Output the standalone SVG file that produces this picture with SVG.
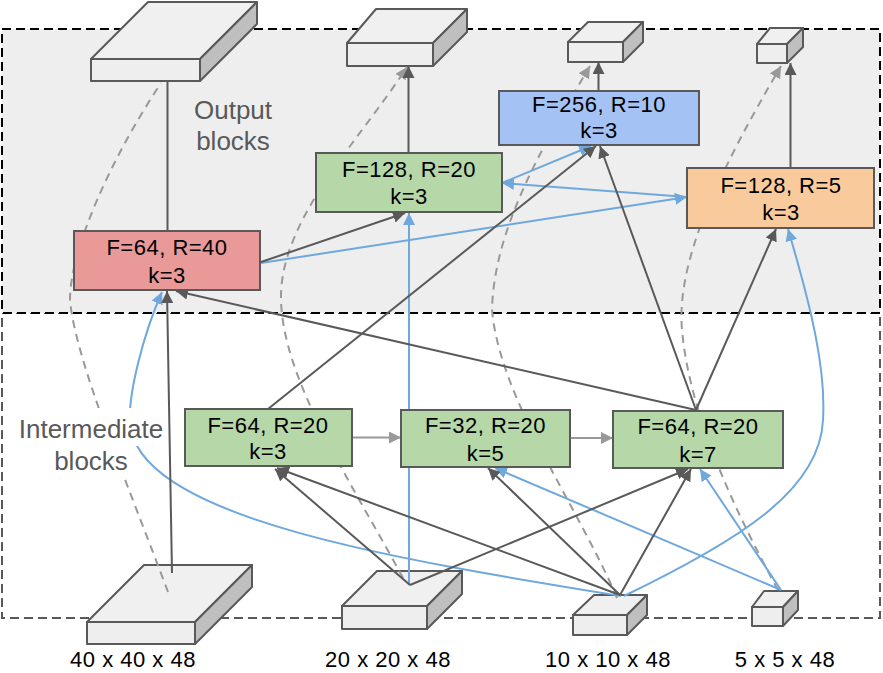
<svg xmlns="http://www.w3.org/2000/svg" width="883" height="673" viewBox="0 0 883 673">
<defs>
<style>
.box{stroke:#595959;stroke-width:2}
.cube rect,.cube path{stroke:#595959;stroke-width:2;stroke-linejoin:round}
.face{fill:#eeeeee}
.top{fill:#f0f0f0}
.side{fill:#bfbfbf}
.t{font-family:"Liberation Sans",Arial,sans-serif;font-size:22px;fill:#000;text-anchor:middle;letter-spacing:0.5px}
.lbl{font-family:"Liberation Sans",Arial,sans-serif;font-size:26px;fill:#595959;text-anchor:middle}
.dk{stroke:#595959;stroke-width:2;fill:none}
.bl{stroke:#6fa8dc;stroke-width:2;fill:none}
.gr{stroke:#999999;stroke-width:2;fill:none}
.ds{stroke:#999999;stroke-width:2;fill:none;stroke-dasharray:8 6}
</style>
<marker id="aDk" viewBox="0 0 12 12" refX="12" refY="6" markerWidth="12" markerHeight="12" markerUnits="userSpaceOnUse" orient="auto"><path d="M0,0 L12,6 L0,12 Z" fill="#595959"/></marker>
<marker id="aBl" viewBox="0 0 12 12" refX="12" refY="6" markerWidth="12" markerHeight="12" markerUnits="userSpaceOnUse" orient="auto"><path d="M0,0 L12,6 L0,12 Z" fill="#6fa8dc"/></marker>
<marker id="aGr" viewBox="0 0 12 12" refX="12" refY="6" markerWidth="12" markerHeight="12" markerUnits="userSpaceOnUse" orient="auto"><path d="M0,0 L12,6 L0,12 Z" fill="#999999"/></marker>
</defs>

<g id="regions">
<rect x="2" y="313" width="878" height="305" fill="#ffffff" stroke="#595959" stroke-width="2" stroke-dasharray="9 5"/>
<rect x="2" y="29" width="878" height="284" fill="#eeeeee" stroke="#000000" stroke-width="2" stroke-dasharray="9 5"/>
</g>

<g id="cube-out-1" class="cube">
<rect class="face" x="91" y="59" width="109" height="22"/>
<path class="top" d="M91,59 L148,2 L257,2 L200,59 Z"/>
<path class="side" d="M200,59 L257,2 L257,24 L200,81 Z"/>
</g>
<g id="cube-out-2" class="cube">
<rect class="face" x="347" y="43" width="86" height="23"/>
<path class="top" d="M347,43 L376,9 L467,9 L433,43 Z"/>
<path class="side" d="M433,43 L467,9 L467,32 L433,66 Z"/>
</g>
<g id="cube-out-3" class="cube">
<rect class="face" x="568" y="42" width="55" height="20"/>
<path class="top" d="M568,42 L588,22 L643,22 L623,42 Z"/>
<path class="side" d="M623,42 L643,22 L643,42 L623,62 Z"/>
</g>
<g id="cube-out-4" class="cube">
<rect class="face" x="757" y="44" width="30" height="19"/>
<path class="top" d="M757,44 L770,28 L803,28 L787,44 Z"/>
<path class="side" d="M787,44 L803,28 L803,47 L787,63 Z"/>
</g>

<g id="cube-in-40" class="cube">
<rect class="face" x="87" y="622" width="108" height="22"/>
<path class="top" d="M87,622 L144,565 L252,565 L195,622 Z"/>
<path class="side" d="M195,622 L252,565 L252,587 L195,644 Z"/>
</g>
<g id="cube-in-20" class="cube">
<rect class="face" x="342" y="606" width="85" height="23"/>
<path class="top" d="M342,606 L377,571 L462,571 L427,606 Z"/>
<path class="side" d="M427,606 L462,571 L462,594 L427,629 Z"/>
</g>
<g id="cube-in-10" class="cube">
<rect class="face" x="573" y="615" width="54" height="20"/>
<path class="top" d="M573,615 L594,595 L647,595 L627,615 Z"/>
<path class="side" d="M627,615 L647,595 L647,615 L627,635 Z"/>
</g>
<g id="cube-in-5" class="cube">
<rect class="face" x="752" y="607" width="31" height="19"/>
<path class="top" d="M752,607 L764,591 L798,591 L783,607 Z"/>
<path class="side" d="M783,607 L798,591 L798,610 L783,626 Z"/>
</g>

<g id="connectors">
<path class="ds" d="M168,592 C130,490 75,360 70,300 C70,250 110,160 161,83"/>
<path class="ds" d="M403,578 C350,480 283,380 281,300 C279,220 360,140 407,67" marker-end="url(#aGr)"/>
<path class="ds" d="M617,598 C580,510 500,400 492,310 C494,230 540,150 590,66" marker-end="url(#aGr)"/>
<path class="ds" d="M778,590 C740,520 690,420 682,330 C676,260 720,170 781,66" marker-end="url(#aGr)"/>

<line class="dk" x1="167.5" y1="231" x2="167.5" y2="81"/>
<line class="dk" x1="408.5" y1="153" x2="408.5" y2="66" marker-end="url(#aDk)"/>
<line class="dk" x1="598.5" y1="91" x2="598.5" y2="62" marker-end="url(#aDk)"/>
<line class="dk" x1="790.5" y1="168" x2="790.5" y2="63" marker-end="url(#aDk)"/>

<line class="bl" x1="409" y1="585" x2="409" y2="213" marker-end="url(#aBl)"/>
<line class="bl" x1="781" y1="590" x2="495" y2="468" marker-end="url(#aBl)"/>
<line class="bl" x1="781" y1="590" x2="700" y2="469" marker-end="url(#aBl)"/>
<path class="bl" d="M621,596 C400,560 150,520 131,430 C125,400 145,330 162,292" marker-end="url(#aBl)"/>
<path class="bl" d="M624,596 C740,540 820,490 823,420 C826,370 812,310 788,229" marker-end="url(#aBl)"/>
<line class="bl" x1="261" y1="263" x2="687" y2="197" marker-end="url(#aBl)"/>
<line class="bl" x1="687" y1="197" x2="502" y2="183" marker-end="url(#aBl)"/>
<line class="bl" x1="502" y1="183" x2="591" y2="146" marker-end="url(#aBl)"/>

<line class="dk" x1="172" y1="573" x2="167" y2="291" marker-end="url(#aDk)"/>
<line class="dk" x1="696" y1="410" x2="176" y2="291" marker-end="url(#aDk)"/>
<line class="dk" x1="268" y1="409" x2="596" y2="146" marker-end="url(#aDk)"/>
<line class="dk" x1="696" y1="410" x2="600" y2="146" marker-end="url(#aDk)"/>
<line class="dk" x1="696" y1="410" x2="776" y2="229" marker-end="url(#aDk)"/>
<line class="dk" x1="261" y1="262" x2="405" y2="213" marker-end="url(#aDk)"/>
<line class="dk" x1="620" y1="595" x2="691" y2="469" marker-end="url(#aDk)"/>
<line class="dk" x1="620" y1="595" x2="488" y2="468" marker-end="url(#aDk)"/>
<line class="dk" x1="620" y1="595" x2="277" y2="468" marker-end="url(#aDk)"/>
<line class="dk" x1="410" y1="585" x2="688" y2="469" marker-end="url(#aDk)"/>
<line class="dk" x1="410" y1="585" x2="275" y2="469" marker-end="url(#aDk)"/>

<line class="gr" x1="352" y1="437.5" x2="401" y2="437.5" marker-end="url(#aGr)"/>
<line class="gr" x1="570" y1="438" x2="613" y2="438" marker-end="url(#aGr)"/>
</g>

<g id="label-output">
<text class="lbl" x="233" y="119">Output</text>
<text class="lbl" x="233" y="150">blocks</text>
</g>
<g id="label-intermediate">
<rect x="15" y="408" width="151" height="38" fill="#ffffff"/>
<rect x="52" y="446" width="78" height="32" fill="#ffffff"/>
<text class="lbl" x="91" y="438">Intermediate</text>
<text class="lbl" x="91" y="470">blocks</text>
</g>

<g id="node-red">
<rect class="box" x="74" y="231" width="186" height="59" fill="#ea9999"/>
<text class="t" x="167" y="255">F=64, R=40</text>
<text class="t" x="167" y="283">k=3</text>
</g>
<g id="node-green128">
<rect class="box" x="316" y="153" width="186" height="59" fill="#b6d7a8"/>
<text class="t" x="409" y="177">F=128, R=20</text>
<text class="t" x="409" y="204">k=3</text>
</g>
<g id="node-blue">
<rect class="box" x="499" y="91" width="200" height="54" fill="#a4c2f4"/>
<text class="t" x="599" y="112">F=256, R=10</text>
<text class="t" x="599" y="138">k=3</text>
</g>
<g id="node-orange">
<rect class="box" x="687" y="168" width="187" height="60" fill="#f9cb9c"/>
<text class="t" x="781" y="193">F=128, R=5</text>
<text class="t" x="781" y="220">k=3</text>
</g>
<g id="node-k3">
<rect class="box" x="185" y="409" width="167" height="57" fill="#b6d7a8"/>
<text class="t" x="268" y="433">F=64, R=20</text>
<text class="t" x="268" y="459">k=3</text>
</g>
<g id="node-k5">
<rect class="box" x="401" y="410" width="169" height="57" fill="#b6d7a8"/>
<text class="t" x="485.5" y="433">F=32, R=20</text>
<text class="t" x="485.5" y="461">k=5</text>
</g>
<g id="node-k7">
<rect class="box" x="613" y="411" width="170" height="57" fill="#b6d7a8"/>
<text class="t" x="698" y="434">F=64, R=20</text>
<text class="t" x="698" y="462">k=7</text>
</g>

<g id="bottom-labels">
<text class="t" x="133" y="667">40 x 40 x 48</text>
<text class="t" x="388" y="667">20 x 20 x 48</text>
<text class="t" x="608" y="667">10 x 10 x 48</text>
<text class="t" x="785" y="667">5 x 5 x 48</text>
</g>
</svg>
